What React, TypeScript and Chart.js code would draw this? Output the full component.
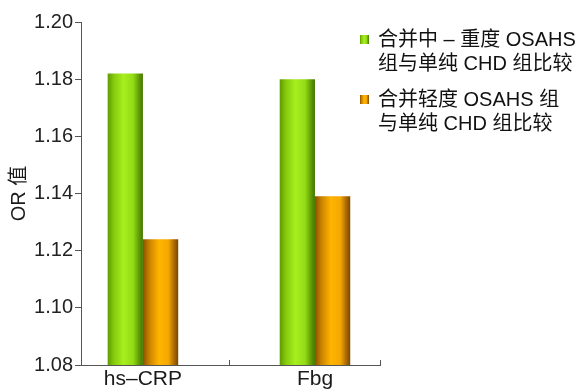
import React, { useEffect, useRef } from "react";
import { Chart, registerables } from "chart.js";

Chart.register(...registerables);

const categories = ["hs–CRP", "Fbg"];
const seriesNames = ["合并中 – 重度 OSAHS 组与单纯 CHD 组比较", "合并轻度 OSAHS 组与单纯 CHD 组比较"];
const legendLines = [
  ["合并中 – 重度 OSAHS", "组与单纯 CHD 组比较"],
  ["合并轻度 OSAHS 组", "与单纯 CHD 组比较"],
];
const moderateSevere = [1.182, 1.180];
const mild = [1.124, 1.139];
const yTicks = [1.08, 1.10, 1.12, 1.14, 1.16, 1.18, 1.20];

const greenStops: [number, string][] = [
  [0, "#5f9a02"], [0.18, "#86cc0c"], [0.45, "#a8ee1e"], [0.72, "#92dc16"], [0.9, "#5c9804"], [1, "#447600"],
];
const orangeStops: [number, string][] = [
  [0, "#8a5200"], [0.18, "#c98200"], [0.45, "#ffb400"], [0.72, "#f5a800"], [0.9, "#a46400"], [1, "#7a4800"],
];
const FONT = '"Liberation Sans", "Noto Sans CJK SC", Arial, sans-serif';

const gradientPlugin = {
  id: "barGradient",
  beforeDatasetsDraw(chart: any) {
    const ctx = chart.ctx;
    chart.data.datasets.forEach((ds: any, di: number) => {
      const meta = chart.getDatasetMeta(di);
      const stops = di === 0 ? greenStops : orangeStops;
      meta.data.forEach((el: any) => {
        const l = el.x - el.width / 2;
        const g = ctx.createLinearGradient(l, 0, l + el.width, 0);
        stops.forEach(([o, c]) => g.addColorStop(o, c));
        el.options.backgroundColor = g;
      });
    });
  },
  afterDraw(chart: any) {
    const x = chart.scales.x;
    const ctx = chart.ctx;
    ctx.save();
    ctx.strokeStyle = "#555";
    ctx.lineWidth = 1;
    const marks = [x.getPixelForValue(0.5), x.right];
    marks.forEach((px: number) => {
      const p = Math.round(px) + 0.5;
      ctx.beginPath();
      ctx.moveTo(p, x.top);
      ctx.lineTo(p, x.top - 5);
      ctx.stroke();
    });
    ctx.restore();
  },
};

export default function App() {
  const ref = useRef<HTMLCanvasElement>(null);
  useEffect(() => {
    if (!ref.current) return;
    const chart = new Chart(ref.current, {
      type: "bar",
      data: {
        datasets: [
          {
            label: seriesNames[0],
            data: moderateSevere.map((v, i) => ({ x: i, y: v })),
            backgroundColor: () => "#8fd814",
            borderWidth: 0,
          },
          {
            label: seriesNames[1],
            data: mild.map((v, i) => ({ x: i, y: v })),
            backgroundColor: () => "#f5a800",
            borderWidth: 0,
          },
        ],
      },
      options: {
        animation: false,
        responsive: true,
        maintainAspectRatio: false,
        barPercentage: 1,
        categoryPercentage: 0.41,
        layout: { padding: { left: 0, right: 207, top: 22, bottom: 0 } },
        plugins: { legend: { display: false }, tooltip: { enabled: false } },
        scales: {
          x: {
            type: "linear",
            offset: false,
            min: -0.36,
            max: 1.378,
            afterBuildTicks: (s: any) => {
              s.ticks = categories.map((_, i) => ({ value: i }));
            },
            afterFit: (s: any) => {
              s.height = 27;
            },
            ticks: {
              callback: (v: any) => categories[v as number] ?? "",
              color: "#1a1a1a",
              font: { family: FONT, size: 21 },
              padding: 2,
              maxRotation: 0,
              autoSkip: false,
            },
            grid: { display: false, drawTicks: false, offset: false },
            border: { display: true, color: "#555", width: 1 },
          },
          y: {
            min: 1.08,
            max: 1.2,
            afterBuildTicks: (s: any) => {
              s.ticks = yTicks.map((v) => ({ value: v }));
            },
            afterFit: (s: any) => {
              s.width = 81;
            },
            ticks: {
              callback: (v: any) => Number(v).toFixed(2),
              color: "#222",
              font: { family: FONT, size: 20 },
              padding: 2,
            },
            grid: { drawOnChartArea: false, drawTicks: true, tickLength: 6, color: "#555" },
            border: { display: true, color: "#555", width: 1 },
            title: {
              display: true,
              text: "OR 值",
              color: "#1a1a1a",
              font: { family: FONT, size: 20 },
              padding: { top: 7, bottom: 0 },
            },
          },
        },
      },
      plugins: [gradientPlugin],
    } as any);
    return () => chart.destroy();
  }, []);

  const boxGrad = (stops: [number, string][]) =>
    `linear-gradient(to right, ${stops.map(([o, c]) => `${c} ${o * 100}%`).join(", ")})`;

  return (
    <div style={{ position: "fixed", left: 0, top: 0, width: 587, height: 392, background: "#fff" }}>
      <canvas ref={ref} />
      <div style={{ position: "absolute", left: 360, top: 27, fontFamily: FONT, fontSize: 20, color: "#111", lineHeight: "24px" }}>
        {legendLines.map((lines, i) => (
          <div key={i} style={{ position: "relative", paddingLeft: 18, marginBottom: i === 0 ? 12 : 0, whiteSpace: "nowrap" }}>
            <span
              style={{
                position: "absolute",
                left: 0,
                top: 8,
                width: 9,
                height: 9,
                background: boxGrad(i === 0 ? greenStops : orangeStops),
              }}
            />
            {lines.map((t, j) => (
              <div key={j}>{t}</div>
            ))}
          </div>
        ))}
      </div>
    </div>
  );
}
